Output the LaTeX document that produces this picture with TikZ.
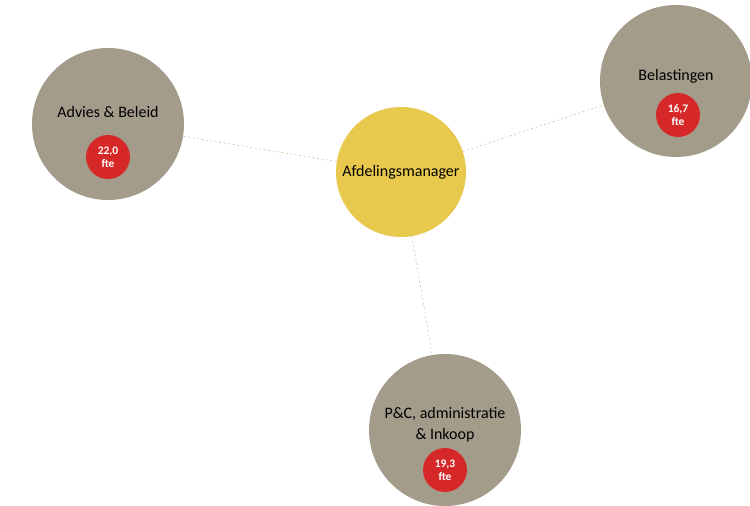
\documentclass[tikz,border=0pt]{standalone}
\usepackage{fontspec}
\setmainfont{Carlito}
\usetikzlibrary{positioning}
\definecolor{orggray}{RGB}{164,156,139}
\definecolor{orgyellow}{RGB}{232,201,78}
\definecolor{orgred}{RGB}{214,40,40}
\definecolor{orgline}{RGB}{205,198,160}
\tikzstyle{dept} = [circle, fill=orggray, minimum size=152pt, inner sep=0pt]
\tikzstyle{manager} = [circle, fill=orgyellow, minimum size=130pt, inner sep=0pt, font=\fontsize{16}{18}\selectfont]
\tikzstyle{deptlabel} = [align=center, inner sep=0pt, font=\fontsize{16}{21}\selectfont]
\tikzstyle{fte} = [circle, fill=orgred, text=white, minimum size=44pt, inner sep=0pt, align=center, font=\bfseries\fontsize{11.5}{13}\selectfont]
\tikzstyle{link} = [color=orgline, line width=0.6pt, dash pattern=on 2pt off 2.5pt]

\begin{document}
\begin{tikzpicture}[x=1pt, y=-1pt]
    \useasboundingbox (0,0) rectangle (750,506);

    % Nodes
    \node[manager] (mgr) at (401,172) {Afdelingsmanager};
    \node[dept] (advies) at (108,124) {};
    \node[dept] (belast) at (676,81) {};
    \node[dept] (pc) at (445,430) {};

    % Labels
    \node[deptlabel] (adviestxt) at ([yshift=12pt]advies.center) {Advies \& Beleid};
    \node[deptlabel] (belasttxt) at ([yshift=5pt]belast.center) {Belastingen};
    \node[deptlabel] (pctxt) at ([yshift=5pt]pc.center) {P\&C, administratie\\\& Inkoop};

    % FTE
    \node[fte] (adviesfte) at ([yshift=-33pt]advies.center) {22,0\\fte};
    \node[fte] (belastfte) at ([xshift=2pt, yshift=-34pt]belast.center) {16,7\\fte};
    \node[fte] (pcfte) at ([yshift=-40pt]pc.center) {19,3\\fte};

    % Links
    \draw[link] (mgr) -- (advies);
    \draw[link] (mgr) -- (belast);
    \draw[link] (mgr) -- (pc);
\end{tikzpicture}
\end{document}
